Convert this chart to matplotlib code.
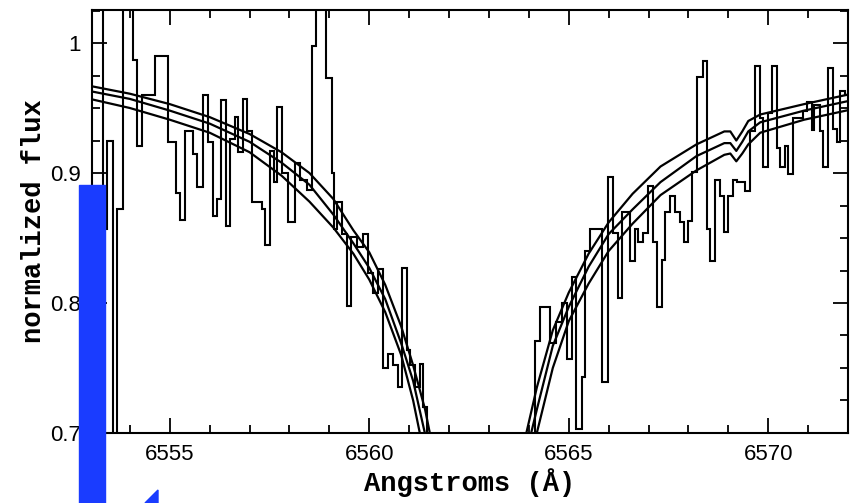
import numpy as np
import matplotlib
matplotlib.use("Agg")
import matplotlib.pyplot as plt
from matplotlib.patches import Rectangle, Polygon

# ---------------- data ----------------
# observed spectrum (step histogram): bin edges in Angstrom and normalized flux per bin
spec_edges_left = [6553.00, 6553.32, 6553.42, 6553.57, 6553.67, 6553.82, 6554.07, 6554.17, 6554.30, 6554.62,
                   6554.95, 6555.15, 6555.25, 6555.38, 6555.58, 6555.68, 6555.83, 6555.95, 6556.08, 6556.18,
                   6556.28, 6556.40, 6556.50, 6556.63, 6556.70, 6556.83, 6556.93, 6557.06, 6557.31, 6557.38,
                   6557.51, 6557.61, 6557.68, 6557.81, 6557.96, 6558.13, 6558.26, 6558.43, 6558.56, 6558.66,
                   6558.91, 6559.06, 6559.11, 6559.19, 6559.31, 6559.44, 6559.54, 6559.69, 6559.84, 6559.96,
                   6560.09, 6560.21, 6560.34, 6560.46, 6560.59, 6560.71, 6560.81, 6560.94, 6561.02, 6561.14,
                   6561.27, 6561.34, 6561.44]
spec_flux_left = [1.06, 0.857, 0.925, 0.69, 0.872, 1.06, 0.987, 0.921, 0.96, 0.99,
                  0.924, 0.885, 0.864, 0.932, 0.915, 0.889, 0.96, 0.924, 0.867, 0.880,
                  0.956, 0.859, 0.926, 0.943, 0.916, 0.957, 0.932, 0.878, 0.872, 0.845,
                  0.917, 0.893, 0.951, 0.90, 0.862, 0.908, 0.895, 0.887, 0.998, 1.06,
                  0.973, 0.90, 0.857, 0.878, 0.853, 0.798, 0.851, 0.843, 0.853, 0.823,
                  0.808, 0.826, 0.75, 0.761, 0.752, 0.735, 0.827, 0.764, 0.752, 0.735,
                  0.753, 0.72]
spec_flux_core = [0.60]
spec_edges_right = [6564.15, 6564.27, 6564.52, 6564.67, 6564.82, 6564.95, 6565.08, 6565.18, 6565.33, 6565.40,
                    6565.53, 6565.83, 6565.98, 6566.10, 6566.23, 6566.33, 6566.53, 6566.65, 6566.73, 6566.85,
                    6566.98, 6567.11, 6567.21, 6567.33, 6567.41, 6567.53, 6567.66, 6567.78, 6567.88, 6567.98,
                    6568.08, 6568.21, 6568.36, 6568.46, 6568.53, 6568.66, 6568.78, 6568.88, 6568.98, 6569.11,
                    6569.23, 6569.41, 6569.54, 6569.66, 6569.79, 6569.86, 6569.99, 6570.09, 6570.21, 6570.29,
                    6570.41, 6570.49, 6570.61, 6570.86, 6570.96, 6571.09, 6571.16, 6571.29, 6571.37, 6571.49,
                    6571.62, 6571.72, 6571.79, 6571.92, 6572.10]
spec_flux_right = [0.771, 0.797, 0.769, 0.785, 0.80, 0.757, 0.820, 0.703, 0.743, 0.840,
                   0.857, 0.739, 0.897, 0.854, 0.804, 0.870, 0.832, 0.857, 0.847, 0.854,
                   0.890, 0.847, 0.797, 0.833, 0.870, 0.882, 0.870, 0.862, 0.847, 0.863,
                   0.901, 0.974, 0.986, 0.857, 0.832, 0.895, 0.882, 0.855, 0.882, 0.895,
                   0.893, 0.886, 0.932, 0.982, 0.942, 0.905, 0.946, 0.982, 0.919, 0.905,
                   0.921, 0.899, 0.942, 0.948, 0.955, 0.933, 0.952, 0.932, 0.905, 0.981,
                   0.934, 0.924, 0.963, 0.960]

# three model profiles on a common wavelength grid
model_wl = [6553.0, 6554.0, 6555.0, 6556.0, 6557.0, 6557.8, 6558.5, 6559.1, 6559.6, 6560.0,
            6560.4, 6560.8, 6561.1, 6561.4, 6561.7, 6562.8,
            6563.6, 6563.9, 6564.2, 6564.6, 6565.0, 6565.5, 6566.0, 6566.6, 6567.3, 6568.2,
            6568.9, 6569.05, 6569.2, 6569.35, 6569.5, 6569.8, 6570.9, 6572.1]
model_a = [0.967, 0.961, 0.953, 0.943, 0.930, 0.916, 0.900, 0.880, 0.856, 0.839,
           0.814, 0.782, 0.752, 0.718, 0.672, 0.50,
           0.65, 0.695, 0.735, 0.779, 0.808, 0.838, 0.862, 0.884, 0.905, 0.922,
           0.932, 0.932, 0.925, 0.932, 0.940, 0.945, 0.953, 0.961]
model_b = [0.963, 0.957, 0.948, 0.938, 0.924, 0.908, 0.891, 0.868, 0.846, 0.827,
           0.803, 0.769, 0.740, 0.699, 0.650, 0.50,
           0.63, 0.68, 0.718, 0.767, 0.797, 0.828, 0.853, 0.872, 0.893, 0.913,
           0.923, 0.923, 0.917, 0.924, 0.932, 0.939, 0.948, 0.956]
model_c = [0.957, 0.950, 0.941, 0.931, 0.916, 0.898, 0.878, 0.858, 0.838, 0.818,
           0.793, 0.760, 0.725, 0.680, 0.630, 0.50,
           0.61, 0.66, 0.70, 0.75, 0.786, 0.815, 0.840, 0.861, 0.883, 0.902,
           0.914, 0.915, 0.909, 0.915, 0.922, 0.931, 0.941, 0.949]

x_major = [6555, 6560, 6565, 6570]
x_major_labels = ["6555", "6560", "6565", "6570"]
y_major = [0.7, 0.8, 0.9, 1.0]
y_major_labels = ["0.7", "0.8", "0.9", "1"]

# ---------------- plot ----------------
fig = plt.figure(figsize=(8.59, 5.03), dpi=100)
ax = fig.add_axes([0.1071, 0.1392, 0.8801, 0.8409])

edges = np.array(spec_edges_left + spec_edges_right)
flux = np.array(spec_flux_left + spec_flux_core + spec_flux_right)
ax.stairs(flux, edges, baseline=None, color="black", lw=1.5, zorder=2)

for m in (model_a, model_b, model_c):
    ax.plot(model_wl, m, color="black", lw=1.6, zorder=3, solid_joinstyle="round")

ax.set_xlim(6553.05, 6572.0)
ax.set_ylim(0.7, 1.0254)

ax.set_xticks(x_major)
ax.set_xticklabels(x_major_labels)
ax.set_xticks(np.arange(6554, 6573, 1.0), minor=True)
ax.set_yticks(y_major)
ax.set_yticklabels(y_major_labels)
ax.set_yticks(np.arange(0.7, 1.03, 0.025), minor=True)

ax.tick_params(which="both", direction="in", top=True, right=True, width=1.3, colors="black")
ax.tick_params(which="major", length=11, pad=8, labelsize=16)
ax.tick_params(which="minor", length=5.5)
for lab in ax.get_xticklabels() + ax.get_yticklabels():
    lab.set_family("Liberation Sans")
for sp in ax.spines.values():
    sp.set_linewidth(1.5)

ax.set_xlabel("Angstroms (Å)", family="Liberation Mono", fontweight="bold", fontsize=19.5, labelpad=2)
ax.set_ylabel("normalized flux", family="Liberation Mono", fontweight="bold", fontsize=19.5, labelpad=2)

# blue overlay marks present on the scanned image
fig.patches.append(Rectangle((79 / 859, 0), 26 / 859, (503 - 185) / 503,
                             transform=fig.transFigure, color="#1a3cff", zorder=10))
fig.patches.append(Polygon([(145 / 859, 0), (158 / 859, 13 / 503), (158 / 859, 0)],
                           closed=True, transform=fig.transFigure, color="#1a3cff", zorder=10))

fig.savefig("out.png", dpi=100)
